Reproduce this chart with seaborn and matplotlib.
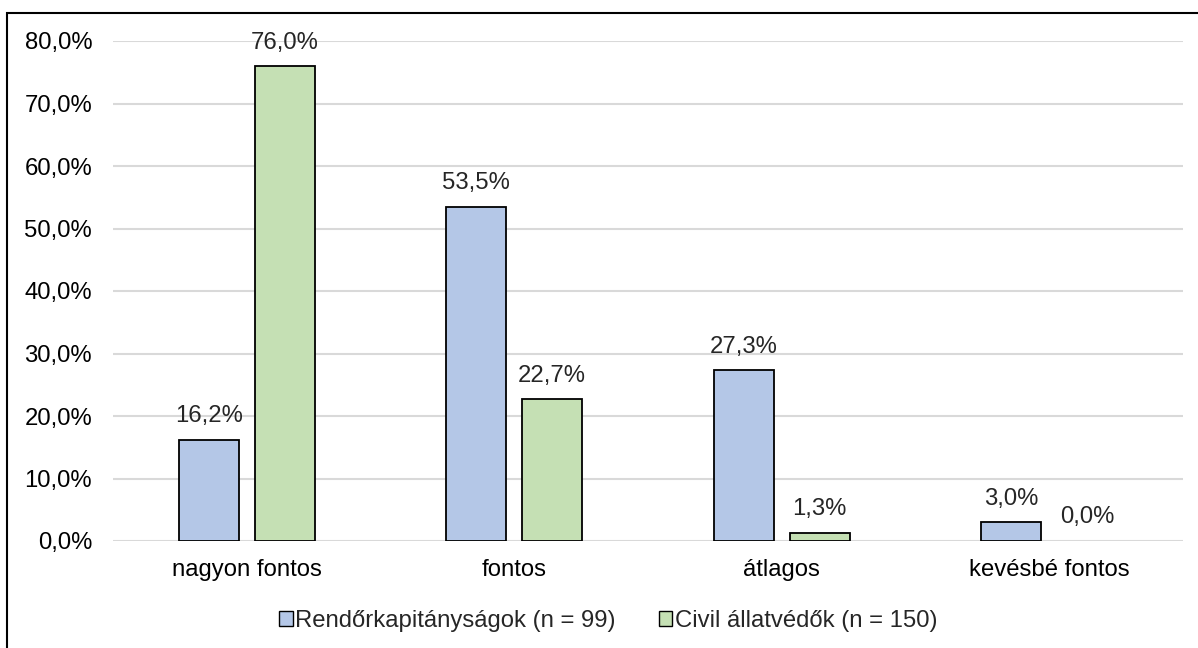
import numpy as np
import pandas as pd
import seaborn as sns
import matplotlib.pyplot as plt
from matplotlib.patches import Rectangle

categories = ['nagyon fontos', 'fontos', 'átlagos', 'kevésbé fontos']
series = ['Rendőrkapitányságok (n = 99)', 'Civil állatvédők (n = 150)']
rendor = [16.2, 53.5, 27.3, 3.0]
civil = [76.0, 22.7, 1.3, 0.0]
colors = ['#b4c7e7', '#c5e0b4']

df = pd.DataFrame({
    'kategoria': categories * 2,
    'csoport': [series[0]] * 4 + [series[1]] * 4,
    'ertek': rendor + civil,
})

sns.set_style('white')
plt.rcParams['font.family'] = ['Liberation Sans', 'DejaVu Sans']
fs = 17.2

fig = plt.figure(figsize=(11.98, 6.48), dpi=100)
ax = fig.add_axes([113 / 1198, 1 - 541 / 648, (1183 - 113) / 1198, 500 / 648])

sns.barplot(data=df, x='kategoria', y='ertek', hue='csoport', order=categories,
            hue_order=series, palette=colors, saturation=1, width=0.568, gap=0.21,
            edgecolor='black', linewidth=1.3, ax=ax, zorder=3)

ax.set_ylim(0, 80)
ax.set_xlim(-0.5, 3.5)
ax.set_yticks(np.arange(0, 81, 10))
ax.set_yticklabels([f'{v:.1f}%'.replace('.', ',') for v in np.arange(0, 81, 10)])
ax.yaxis.grid(True, color='#d9d9d9', linewidth=1.5, zorder=0)
ax.set_axisbelow(True)
for s in ax.spines.values():
    s.set_visible(False)
ax.tick_params(axis='both', length=0, labelsize=fs, colors='black')
ax.tick_params(axis='y', pad=15)
ax.tick_params(axis='x', pad=13)
ax.set_xlabel('')
ax.set_ylabel('')

for cont in ax.containers:
    for b in cont:
        if b.get_height() == 0:
            b.set_linewidth(0)
    labels = [f'{b.get_height():.1f}%'.replace('.', ',') for b in cont]
    ax.bar_label(cont, labels=labels, padding=9, fontsize=fs, clip_on=False)

ax.legend(loc='center', bbox_to_anchor=(0.463, -0.16), ncol=2, frameon=False,
          fontsize=fs, handlelength=0.55, handleheight=0.55, handletextpad=0.12,
          columnspacing=1.8)
for h in ax.get_legend().legend_handles:
    h.set_edgecolor('black')
    h.set_linewidth(1.0)

fig.patches.append(Rectangle((7 / 1198, -0.01), 1.0, 1 - 12.5 / 648 + 0.01,
                             transform=fig.transFigure, fill=False,
                             edgecolor='black', linewidth=1.5))

fig.savefig('out.png', dpi=100)
